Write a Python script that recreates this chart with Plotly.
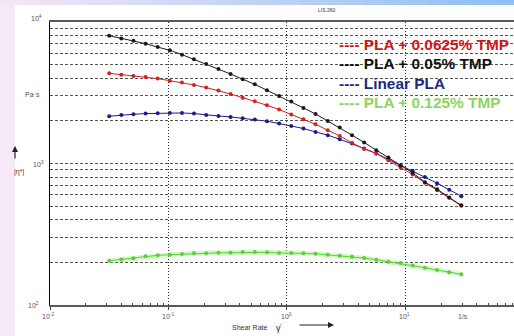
import plotly.graph_objects as go

# ---- data ----
shear_rate = [0.0316, 0.0400, 0.0506, 0.0641, 0.0811, 0.1026, 0.130, 0.164, 0.208, 0.264,
              0.334, 0.423, 0.535, 0.678, 0.858, 1.087, 1.376, 1.742, 2.21, 2.79,
              3.54, 4.48, 5.67, 7.18, 9.09, 11.5, 14.6, 18.5, 23.4, 29.6]

pla_0625 = [4335, 4245, 4150, 4085, 3980, 3850, 3730, 3590, 3440, 3275,
            3100, 2920, 2750, 2580, 2405, 2216, 2053, 1894, 1718, 1566,
            1398, 1268, 1177, 1055, 937, 836, 730, 648, 572, 502]

pla_005 = [8000, 7660, 7380, 7030, 6650, 6310, 5880, 5450, 5050, 4650,
           4290, 3940, 3630, 3290, 3000, 2740, 2470, 2240, 2000, 1795,
           1585, 1407, 1241, 1103, 968, 859, 738, 659, 575, 506]

linear_pla = [2158, 2203, 2228, 2254, 2265, 2276, 2276, 2254, 2203, 2167,
              2133, 2089, 2046, 1991, 1916, 1843, 1767, 1672, 1585, 1484,
              1383, 1276, 1177, 1067, 968, 887, 804, 726, 652, 587]

pla_0125 = [205.6, 210.0, 213.6, 220.8, 224.4, 226.6, 229.2, 231.8, 231.8, 234.0,
            234.0, 236.6, 236.6, 235.5, 232.9, 232.9, 231.8, 230.0, 226.6, 222.9,
            219.3, 214.6, 208.8, 202.2, 197.9, 190.5, 183.3, 176.6, 170.1, 164.7]

series_names = ["PLA + 0.0625% TMP", "PLA + 0.05% TMP", "Linear PLA", "PLA + 0.125% TMP"]
x_tick_labels = ["10<sup>-2</sup>", "10<sup>-1</sup>", "10<sup>0</sup>", "10<sup>1</sup>"]
y_tick_labels = ["10<sup>2</sup>", "10<sup>3</sup>", "10<sup>4</sup>"]

W, H = 514, 336
L, R, T, B = 50, 0, 22, 31
PW, PH = W - L - R, H - T - B


def px(xp):
    return (xp - L) / PW


def py(yp):
    return (H - B - yp) / PH


fig = go.Figure()

# green glow underlay
fig.add_trace(go.Scatter(x=shear_rate, y=pla_0125, mode="lines",
                         line=dict(color="rgba(140,235,110,0.35)", width=5),
                         hoverinfo="skip", showlegend=False))

styles = [
    (pla_0125, "#5ccf3a", series_names[3]),
    (linear_pla, "#1c1c8c", series_names[2]),
    (pla_0625, "#d22222", series_names[0]),
    (pla_005, "#1a1a1a", series_names[1]),
]
for ys, col, nm in styles:
    fig.add_trace(go.Scatter(x=shear_rate, y=ys, mode="lines+markers", name=nm,
                             line=dict(color=col, width=1),
                             marker=dict(color=col, size=4),
                             showlegend=False))

grid_y = [d * 10 ** e for e in (2, 3) for d in range(1, 10)] + [10000]
minor_x = [d * 10 ** e for e in (-2, -1, 0, 1) for d in range(2, 10)]

fig.update_xaxes(type="log", range=[-2, 1.9159], showgrid=True,
                 tickvals=[0.01, 0.1, 1, 10], showticklabels=False,
                 gridcolor="#2a2a2a", griddash="1px,2px", gridwidth=1,
                 ticks="outside", ticklen=3, tickcolor="#444",
                 minor=dict(tickvals=minor_x, ticks="inside", ticklen=2, tickcolor="#444", showgrid=False),
                 showline=True, linecolor="#5a5a5a", linewidth=1.5, mirror=True,
                 zeroline=False)
fig.update_yaxes(type="log", range=[2, 4], showgrid=True,
                 tickvals=grid_y, showticklabels=False, ticks="",
                 gridcolor="#555555", griddash="3px,2px", gridwidth=1,
                 showline=True, linecolor="#000000", linewidth=1,
                 zeroline=False)

shapes = []
# left pink strip
shapes.append(dict(type="rect", xref="paper", yref="paper", x0=px(0), x1=px(15), y0=py(H), y1=py(0),
                   fillcolor="#f6e9f6", line=dict(width=0), layer="below"))
# top gradient strip
n = 24
c0 = (244, 230, 246)
c1 = (142, 192, 244)
for i in range(n):
    t = i / (n - 1)
    c = tuple(int(c0[k] + (c1[k] - c0[k]) * t) for k in range(3))
    shapes.append(dict(type="rect", xref="paper", yref="paper",
                       x0=px(W * i / n), x1=px(W * (i + 1) / n + 1), y0=py(5), y1=py(0),
                       fillcolor="rgb(%d,%d,%d)" % c, line=dict(width=0), layer="below"))

ann = []
lab_font = dict(family="Liberation Sans, Arial", size=7, color="#555555")


def add_text(text, xp, yp, font=lab_font, xanchor="center"):
    ann.append(dict(text=text, x=px(xp), y=py(yp), xref="paper", yref="paper",
                    showarrow=False, font=font, xanchor=xanchor, yanchor="middle"))


# y tick labels
add_text(y_tick_labels[2], 36, 18)
add_text(y_tick_labels[1], 38, 164)
add_text(y_tick_labels[0], 33, 305)
add_text("Pa·s", 32, 95)
add_text("|η*|", 19, 172, font=dict(family="Liberation Sans, Arial", size=7, color="#333"))
ann.append(dict(text="", x=px(15), y=py(146), xref="paper", yref="paper",
                ax=0, ay=14, showarrow=True, arrowhead=2, arrowsize=1, arrowwidth=1.2,
                arrowcolor="#222"))

# x tick labels
for lab, xp in zip(x_tick_labels, [48, 168, 286, 404]):
    add_text(lab, xp, 316)
add_text("1/s", 463, 316)
add_text("Shear Rate", 250, 327, font=dict(family="Liberation Sans, Arial", size=7, color="#333"))
add_text("γ̇", 279, 328, font=dict(family="Liberation Sans, Arial", size=9, color="#222"))
ann.append(dict(text="", x=px(334), y=py(325), xref="paper", yref="paper",
                ax=-36, ay=0, showarrow=True, arrowhead=2, arrowsize=1, arrowwidth=1.2,
                arrowcolor="#222"))
add_text("LIS.260", 326, 10, font=dict(family="Liberation Sans, Arial", size=5, color="#333"))

# legend-like labels
leg = [("---- " + series_names[0], "#d01818", 44),
       ("---- " + series_names[1], "#111111", 63),
       ("---- " + series_names[2], "#1a2a80", 83),
       ("---- " + series_names[3], "#8cd45e", 102)]
for text, col, yp in leg:
    add_text("<b>" + text + "</b>", 337, yp,
             font=dict(family="Liberation Sans, Arial", size=15.4, color=col), xanchor="left")

fig.update_layout(width=W, height=H, margin=dict(l=L, r=R, t=T, b=B),
                  paper_bgcolor="white", plot_bgcolor="white",
                  shapes=shapes, annotations=ann, showlegend=False)

fig.write_html("out.html", config={"displayModeBar": False},
               post_script="document.body.style.margin='0';document.body.style.overflow='hidden';")
